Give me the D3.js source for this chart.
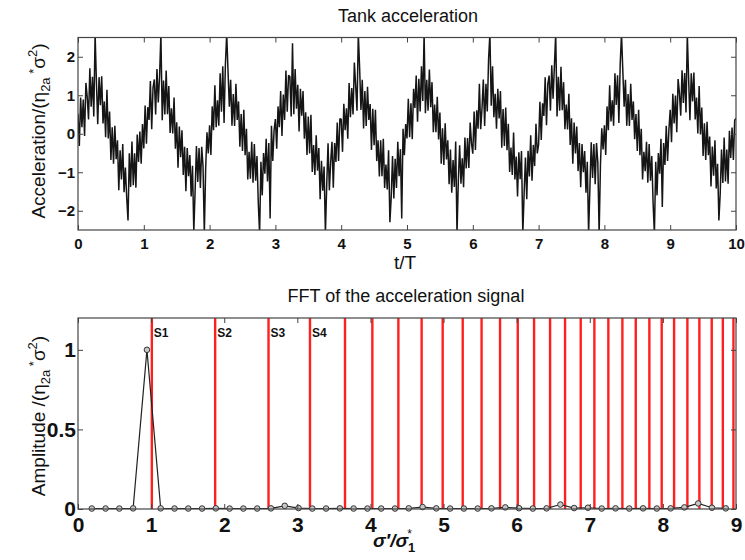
<!DOCTYPE html>
<html>
<head>
<meta charset="utf-8">
<script src="https://cdn.jsdelivr.net/npm/d3@7"></script>
<style>
  body { margin: 0; background: #fff; }
  svg { display: block; }
  text { font-family: Arial, "Liberation Sans", sans-serif; }
</style>
</head>
<body>
<svg id="chart" width="745" height="560"></svg>
<script>
// ---------- Tank acceleration record (normalised), one sample every 0.02 t/T ----------
const sampleStep = 0.02;
const accelSignal = [
  // 0 – 1
  0.52, -0.32, 0.94, 0.17, 0.89, -0.06, 1.32, 0.96, 0.37, 1.70, 0.70, 1.48, 0.45, 2.60, 1.33, 0.25, 1.47, 0.74, 1.49, 0.27, 0.84, -0.09, 1.14, -0.12, 0.58,
  -0.68, 0.17, -0.78, 0.21, -0.66, -0.17, -1.47, -0.43, -1.19, -0.27, -1.52, -0.88, -1.65, -2.25, -0.51, -1.38, -0.20, -1.34, -0.51, -1.40, -0.02, -0.73, 0.06, -0.78, 0.25,
  // 1 – 2
  -0.38, 0.73, -0.26, 0.69, 0.36, 1.37, 0.12, 1.19, 1.41, 0.50, 1.68, 0.81, 1.50, 2.60, 0.35, 1.38, 0.50, 1.64, 0.51, 1.24, 0.02, 0.66, 0.01, 0.94, -0.39,
  0.30, -0.88, 0.19, -0.61, 0.09, -1.07, -0.34, -1.49, -0.37, -1.10, -0.55, -1.63, -0.83, -2.55, -1.48, -0.32, -1.25, -0.37, -1.41, -0.34, -0.84, -2.60, -0.91, 0.04, -0.51,
  // 2 – 3
  0.22, -0.55, 0.71, 0.09, 1.26, 0.17, 0.87, 0.21, 1.57, 0.57, 1.75, 0.28, 1.80, 2.60, 1.63, 0.70, 1.40, 0.21, 1.03, 0.20, 1.30, 0.36, 0.84, -0.34, 0.51,
  -0.45, 0.62, -0.56, 0.13, -1.19, -0.47, -1.17, -0.21, -1.27, -0.27, -1.22, -0.58, -1.80, -2.60, -0.73, -1.60, -0.50, -1.04, -0.13, -1.24, -0.24, -2.20, 0.21, -0.71, 0.09,
  // 3 – 4
  0.38, -0.39, 0.71, 0.17, 1.11, -0.06, 1.02, 0.36, 1.64, 0.57, 1.52, 1.48, 0.45, 2.35, 0.51, 1.68, 0.65, 1.27, 0.06, 1.17, 0.47, 1.11, -0.13, 0.56, -0.55,
  0.45, -0.51, 0.49, -0.99, -0.29, -1.07, -0.04, -0.96, -0.37, -1.70, -0.70, -1.48, -0.85, -2.60, -1.33, -0.25, -1.47, -0.74, -0.21, -1.40, -0.24, -0.73, 0.29, -0.71, 0.39,
  // 4 – 5
  0.38, -0.47, 0.78, 0.09, 0.66, -0.13, 1.32, 0.43, 1.19, 0.50, 1.85, 1.25, 0.60, 2.60, 1.71, 0.62, 1.40, 0.14, 1.11, 0.20, 1.22, 0.36, 0.77, -0.42, 0.65,
  -0.30, 0.62, -0.71, -0.17, -1.11, -0.17, -1.10, -0.13, -1.41, -0.80, -1.45, -0.43, -2.30, -1.65, -0.58, -1.68, -0.65, -1.41, -0.21, -1.10, -0.40, -2.20, 0.13, -0.56, 0.25,
  // 5 – 6
  -0.12, 0.91, -0.09, 0.79, -0.14, 1.17, 0.67, 1.51, 0.31, 1.43, 0.58, 1.75, 0.85, 2.60, 0.53, 1.40, 0.60, 1.67, 0.69, 1.34, 0.04, 0.76, 0.04, 0.96, -0.15,
  0.55, -0.78, 0.14, -0.81, 0.27, -0.67, -0.17, -1.31, -0.41, -1.53, -0.68, -1.38, -0.20, -2.60, -1.23, -0.30, -1.30, -0.64, -1.39, -0.10, -0.90, -0.11, -0.89, 0.29, -0.25,
  // 6 – 7
  -0.52, 0.58, -0.42, 0.61, 0.13, 1.30, 0.12, 0.66, 1.41, 0.20, 1.30, 0.58, 1.95, 2.60, 0.73, 1.75, 0.43, 1.04, 0.13, 1.17, 0.40, 1.11, -0.36, 0.64, -0.32,
  0.68, -0.43, 0.26, -0.99, -0.36, -1.07, 0.03, -1.19, -0.59, -1.63, -0.48, -1.18, -0.45, -2.60, -1.55, -0.62, -1.70, -0.44, -1.11, -0.04, -1.22, -0.29, -0.84, 0.26, -0.51,
  // 7 – 8
  -0.28, 0.83, -0.16, 0.79, 0.46, 1.47, 0.22, 1.29, 1.51, 0.60, 1.78, 0.91, 1.75, 2.60, 0.45, 1.48, 0.60, 1.74, 0.61, 1.34, 0.12, 0.76, 0.11, 1.04, -0.29,
  0.40, -0.78, 0.29, -0.51, 0.19, -0.97, -0.24, -1.39, -0.27, -1.00, -0.45, -1.53, -0.73, -2.60, -1.38, -0.22, -1.15, -0.27, -1.31, -0.24, -0.74, -2.60, -0.81, 0.14, -0.41,
  // 8 – 9
  0.22, -0.55, 0.71, 0.09, 1.26, 0.32, 0.87, 0.21, 1.57, 0.75, 1.52, 0.28, 1.80, 2.60, 1.63, 0.70, 1.40, 0.21, 1.03, 0.20, 1.30, 0.36, 0.84, -0.14, 0.51,
  -0.45, 0.62, -0.56, 0.13, -1.19, -0.47, -0.97, -0.21, -1.27, -0.27, -1.22, -0.58, -1.80, -2.60, -0.73, -1.60, -0.50, -1.04, -0.13, -1.90, -0.24, -0.81, 0.21, -0.71, 0.09,
  // 9 – 10
  0.62, -0.22, 1.04, 0.27, 0.99, 0.04, 1.42, 1.06, 0.47, 1.65, 0.80, 1.58, 0.55, 2.60, 1.43, 0.35, 1.57, 0.84, 1.59, 0.37, 0.94, 0.01, 1.24, -0.02, 0.68,
  -0.58, 0.27, -0.68, 0.31, -0.56, -0.07, -1.37, -0.33, -1.09, -0.17, -1.42, -0.78, -2.25, -1.55, -0.41, -1.28, -0.10, -1.24, -0.41, -1.30, 0.08, -0.63, 0.16, -0.68, 0.35,
  0.40
];
const timeTicks = [0, 1, 2, 3, 4, 5, 6, 7, 8, 9, 10];
const accelTicks = [-2, -1, 0, 1, 2];

// ---------- FFT of the record ----------
const fftFreq = [
  0.189, 0.377, 0.566, 0.754, 0.943, 1.131, 1.320, 1.508, 1.697, 1.885,
  2.074, 2.262, 2.451, 2.639, 2.828, 3.016, 3.205, 3.393, 3.582, 3.770,
  3.959, 4.147, 4.336, 4.524, 4.713, 4.901, 5.090, 5.278, 5.467, 5.655,
  5.844, 6.032, 6.221, 6.409, 6.598, 6.786, 6.975, 7.163, 7.352, 7.540,
  7.729, 7.917, 8.106, 8.294, 8.483, 8.671, 8.860
];
const fftAmp = [
  0.003, 0.003, 0.003, 0.004, 1.000, 0.004, 0.003, 0.003, 0.003, 0.004,
  0.003, 0.003, 0.003, 0.004, 0.020, 0.006, 0.003, 0.003, 0.004, 0.003,
  0.003, 0.003, 0.003, 0.004, 0.012, 0.004, 0.003, 0.003, 0.003, 0.004,
  0.010, 0.005, 0.003, 0.004, 0.028, 0.006, 0.008, 0.003, 0.004, 0.003,
  0.004, 0.003, 0.004, 0.010, 0.035, 0.008, 0.004
];
// natural sloshing frequencies, sigma_n / sigma_1*
const modeFreq = [
  1.01, 1.876, 2.606, 3.173, 3.652, 4.026, 4.382, 4.700, 4.988, 5.262,
  5.520, 5.773, 6.015, 6.238, 6.457, 6.662, 6.876, 7.063, 7.254, 7.446,
  7.629, 7.815, 7.984, 8.153, 8.335, 8.499, 8.668, 8.820, 8.965
];
const modeLabels = ["S1", "S2", "S3", "S4"];
const freqTicks = [0, 1, 2, 3, 4, 5, 6, 7, 8, 9];
const ampTicks = [0, 0.5, 1];

// ---------- layout ----------
const svg = d3.select("#chart");
const upperBox = { left: 78, right: 736, top: 37.5, bottom: 230 };
const lowerBox = { left: 78, right: 736, top: 318, bottom: 509 };

const xTime = d3.scaleLinear().domain([0, 10]).range([upperBox.left, upperBox.right]);
const yAcc  = d3.scaleLinear().domain([-2.5, 2.5]).range([upperBox.bottom, upperBox.top]);
const xFreq = d3.scaleLinear().domain([0, 9]).range([lowerBox.left, lowerBox.right]);
const yAmp  = d3.scaleLinear().domain([0, 1.2]).range([lowerBox.bottom, lowerBox.top]);

function drawFrame(box, x, y, xTicks, yTicks, fontSize, xPad, yPad) {
  const g = svg.append("g");
  const style = sel => {
    sel.select(".domain").remove();
    sel.selectAll(".tick line").attr("stroke", "#444").attr("stroke-width", 1);
    sel.selectAll(".tick text").attr("fill", "#111").attr("font-weight", "bold")
       .attr("font-size", fontSize).attr("font-family", "Arial, 'Liberation Sans', sans-serif");
  };
  g.append("g").attr("transform", `translate(0,${box.bottom})`)
    .call(d3.axisBottom(x).tickValues(xTicks).tickSize(-5).tickPadding(xPad).tickFormat(d3.format("")))
    .call(style);
  g.append("g").attr("transform", `translate(0,${box.top})`)
    .call(d3.axisTop(x).tickValues(xTicks).tickSize(-5).tickFormat(""))
    .call(style);
  g.append("g").attr("transform", `translate(${box.left},0)`)
    .call(d3.axisLeft(y).tickValues(yTicks).tickSize(-5).tickPadding(yPad).tickFormat(d3.format("")))
    .call(style);
  g.append("g").attr("transform", `translate(${box.right},0)`)
    .call(d3.axisRight(y).tickValues(yTicks).tickSize(-5).tickFormat(""))
    .call(style);
  g.append("rect")
    .attr("x", box.left).attr("y", box.top)
    .attr("width", box.right - box.left).attr("height", box.bottom - box.top)
    .attr("fill", "none").attr("stroke", "#444").attr("stroke-width", 1.2);
  return g;
}

// ---------- upper panel: time record ----------
svg.append("clipPath").attr("id", "clipUpper")
  .append("rect")
  .attr("x", upperBox.left).attr("y", upperBox.top)
  .attr("width", upperBox.right - upperBox.left).attr("height", upperBox.bottom - upperBox.top);

const accelLine = d3.line()
  .x((d, i) => xTime(i * sampleStep))
  .y(d => yAcc(d));

svg.append("path")
  .datum(accelSignal)
  .attr("clip-path", "url(#clipUpper)")
  .attr("d", accelLine)
  .attr("fill", "none")
  .attr("stroke", "#151515")
  .attr("stroke-width", 1.5)
  .attr("stroke-linejoin", "bevel");

drawFrame(upperBox, xTime, yAcc, timeTicks, accelTicks, 15, 8, 3);

svg.append("text")
  .attr("x", 408).attr("y", 22)
  .attr("text-anchor", "middle").attr("font-size", 18).attr("fill", "#111")
  .text("Tank acceleration");

svg.append("text")
  .attr("x", 405).attr("y", 269)
  .attr("text-anchor", "middle").attr("font-size", 19).attr("fill", "#111")
  .text("t/T");

function yLabel(cx, cy, lead) {
  const t = svg.append("text")
    .attr("transform", `translate(${cx},${cy}) rotate(-90)`)
    .attr("text-anchor", "middle").attr("font-size", 19).attr("fill", "#111");
  t.append("tspan").text(lead);
  t.append("tspan").attr("font-size", 13).attr("dy", 5).text("2a");
  t.append("tspan").attr("font-size", 13).attr("dy", -12).text(" *");
  t.append("tspan").attr("dy", 7).text("σ");
  t.append("tspan").attr("font-size", 13).attr("dy", -8).text("2");
  t.append("tspan").attr("dy", 8).text(")");
}
yLabel(45, 131, "Acceleration/(η");

// ---------- lower panel: spectrum ----------
svg.append("g").selectAll("line")
  .data(modeFreq)
  .join("line")
  .attr("x1", d => xFreq(d)).attr("x2", d => xFreq(d))
  .attr("y1", lowerBox.top).attr("y2", lowerBox.bottom)
  .attr("stroke", "#ff1f1f").attr("stroke-width", 2.4);

svg.append("g").selectAll("text")
  .data(modeLabels)
  .join("text")
  .attr("x", (d, i) => xFreq(modeFreq[i]) + 2)
  .attr("y", 337)
  .attr("font-size", 12).attr("font-weight", "bold").attr("fill", "#111")
  .text(d => d);

const fftPoints = fftFreq.map((f, i) => [f, fftAmp[i]]);

svg.append("path")
  .datum(fftPoints)
  .attr("d", d3.line().x(d => xFreq(d[0])).y(d => yAmp(d[1])))
  .attr("fill", "none").attr("stroke", "#222").attr("stroke-width", 1.2);

svg.append("g").selectAll("circle")
  .data(fftPoints)
  .join("circle")
  .attr("cx", d => xFreq(d[0])).attr("cy", d => yAmp(d[1]))
  .attr("r", 2.8)
  .attr("fill", "#c8c8c8").attr("stroke", "#333").attr("stroke-width", 1);

drawFrame(lowerBox, xFreq, yAmp, freqTicks, ampTicks, 21, 8, 2);

svg.append("text")
  .attr("x", 406).attr("y", 302)
  .attr("text-anchor", "middle").attr("font-size", 18).attr("fill", "#111")
  .text("FFT of the acceleration signal");

yLabel(45, 416, "Amplitude /(η");

const xl = svg.append("text")
  .attr("x", 373).attr("y", 547)
  .attr("font-family", "'DejaVu Serif', 'Liberation Serif', serif")
  .attr("font-style", "italic").attr("font-weight", "bold")
  .attr("font-size", 19).attr("fill", "#111");
xl.append("tspan").text("σ′/σ");
xl.append("tspan").attr("font-size", 13).attr("dy", 5).attr("font-style", "normal").text("1");
xl.append("tspan").attr("font-size", 12).attr("dx", -8).attr("dy", -14).attr("font-style", "normal").attr("font-weight", "normal").text("*");
</script>
</body>
</html>
